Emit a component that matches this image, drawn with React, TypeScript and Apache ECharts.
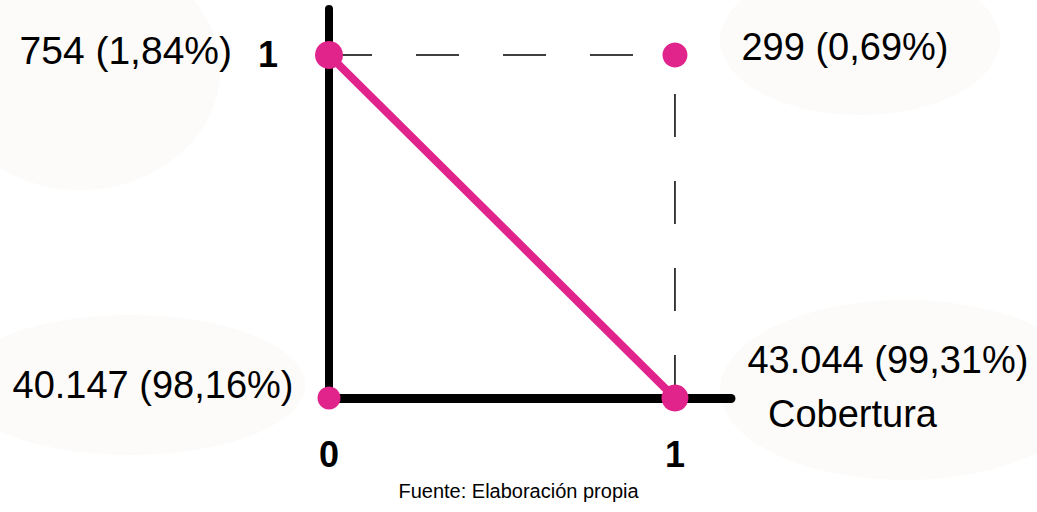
import React, { useEffect, useRef } from "react";
import * as echarts from "echarts";

// ---- data ----
const xTickValues = [0, 1];
const yTickValues = [1];
const pointCoords: [number, number][] = [
  [0, 1],
  [1, 1],
  [0, 0],
  [1, 0],
];
const pointLabels = ["754 (1,84%)", "299 (0,69%)", "40.147 (98,16%)", "43.044 (99,31%)"];
const diagonalLine: [number, number][] = [
  [0, 1],
  [1, 0],
];
const dashedTop: [number, number][] = [
  [0, 1],
  [1, 1],
];
const dashedRight: [number, number][] = [
  [1, 0],
  [1, 1],
];
const xAxisName = "Cobertura";
const sourceNote = "Fuente: Elaboración propia";

// ---- styles ----
const MAGENTA = "#E0248B";
const BLOB = "#FCFBF9";
const FONT = "'Liberation Sans', Arial, sans-serif";
const pointStyles = [
  { size: 28, position: "left", distance: 83, offset: [0, -4], fontSize: 39 },
  { size: 25, position: "right", distance: 54, offset: [0, -8], fontSize: 38 },
  { size: 23, position: "left", distance: 24, offset: [0, -13], fontSize: 38 },
  { size: 27, position: "right", distance: 59, offset: [0, -38], fontSize: 38 },
];

export default function App() {
  const ref = useRef<HTMLDivElement>(null);

  useEffect(() => {
    if (!ref.current) return;
    const chart = echarts.init(ref.current, undefined, { renderer: "svg" });

    const option: any = {
      animation: false,
      backgroundColor: "#ffffff",
      title: {
        text: sourceNote,
        left: "center",
        top: 481,
        padding: 0,
        textStyle: { fontFamily: FONT, fontSize: 20, fontWeight: "normal", color: "#000" },
      },
      graphic: [
        { type: "ellipse", z: -10, silent: true, shape: { cx: 80, cy: 70, rx: 140, ry: 120 }, style: { fill: BLOB } },
        { type: "ellipse", z: -10, silent: true, shape: { cx: 860, cy: 40, rx: 140, ry: 75 }, style: { fill: BLOB } },
        { type: "ellipse", z: -10, silent: true, shape: { cx: 130, cy: 385, rx: 175, ry: 70 }, style: { fill: BLOB } },
        { type: "ellipse", z: -10, silent: true, shape: { cx: 905, cy: 390, rx: 185, ry: 90 }, style: { fill: BLOB } },
      ],
      grid: { left: 329, right: 306, top: 9, bottom: 114, containLabel: false },
      xAxis: {
        type: "value",
        min: 0,
        max: 1.162,
        interval: 1,
        name: xAxisName,
        nameLocation: "end",
        nameGap: 37,
        nameTextStyle: {
          fontFamily: FONT,
          fontSize: 38,
          color: "#000",
          verticalAlign: "top",
          lineHeight: 32,
        },
        axisLine: { show: true, onZero: false, lineStyle: { color: "#000", width: 9 } },
        axisTick: { show: false },
        splitLine: { show: false },
        axisLabel: {
          showMaxLabel: false,
          margin: 38,
          fontFamily: FONT,
          fontSize: 36,
          fontWeight: "bold",
          color: "#000",
          formatter: (v: number) => (xTickValues.includes(v) ? String(v) : ""),
        },
      },
      yAxis: {
        type: "value",
        min: 0,
        max: 1.134,
        interval: 1,
        axisLine: { show: true, onZero: false, lineStyle: { color: "#000", width: 8 } },
        axisTick: { show: false },
        splitLine: { show: false },
        axisLabel: {
          showMaxLabel: false,
          margin: 51,
          padding: [0, 0, 12, 0],
          fontFamily: FONT,
          fontSize: 36,
          fontWeight: "bold",
          color: "#000",
          formatter: (v: number) => (yTickValues.includes(v) ? String(v) : ""),
        },
      },
      series: [
        {
          type: "line",
          data: dashedTop,
          showSymbol: false,
          silent: true,
          z: 1,
          lineStyle: { color: "#000", width: 1.5, type: [43, 44] },
        },
        {
          type: "line",
          data: dashedRight,
          showSymbol: false,
          silent: true,
          z: 1,
          lineStyle: { color: "#000", width: 1.5, type: [43, 44] },
        },
        {
          type: "line",
          data: diagonalLine,
          showSymbol: false,
          silent: true,
          z: 2,
          lineStyle: { color: MAGENTA, width: 8, cap: "round" },
        },
        {
          type: "scatter",
          z: 3,
          silent: true,
          itemStyle: { color: MAGENTA, opacity: 1 },
          data: pointCoords.map((c, i) => ({
            value: c,
            symbolSize: pointStyles[i].size,
            label: {
              show: true,
              formatter: pointLabels[i],
              position: pointStyles[i].position,
              distance: pointStyles[i].distance,
              offset: pointStyles[i].offset,
              fontFamily: FONT,
              fontSize: pointStyles[i].fontSize,
              color: "#000",
            },
          })),
        },
      ],
    };

    chart.setOption(option);
    return () => chart.dispose();
  }, []);

  return (
    <div
      ref={ref}
      style={{ position: "fixed", left: 0, top: 0, width: 1037, height: 512 }}
    />
  );
}
